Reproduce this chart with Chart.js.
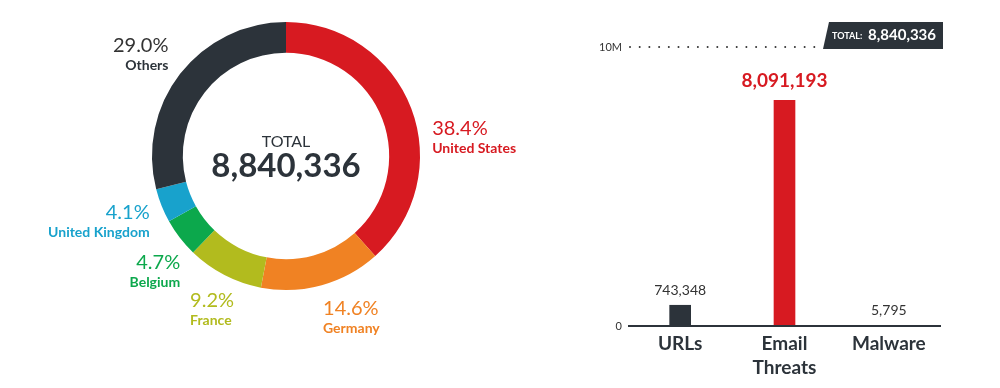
<!DOCTYPE html>
<html>
<head>
    <title>Threats by Country</title>
    <script src="https://cdn.jsdelivr.net/npm/chart.js"></script>
    <style>
      body { margin: 0; background: #fff; }
      #wrap { position: relative; width: 1000px; height: 388px; }
      #donut { position: absolute; left: 0; top: 0; }
      #bars { position: absolute; left: 560px; top: 0; }
    </style>
</head>
<body>
    <div id="wrap">
      <canvas id="donut" width="560" height="388"></canvas>
      <canvas id="bars" width="440" height="388"></canvas>
    </div>

    <script>
    // donut data
    const countries = ['United States', 'Germany', 'France', 'Belgium', 'United Kingdom', 'Others'];
    const shares = [38.4, 14.6, 9.2, 4.7, 4.1, 29.0];
    const countryColors = ['#d71a21', '#f08223', '#b2bb1e', '#0ca84c', '#18a2cc', '#2c333a'];
    const totalCount = 8840336;

    // bar data
    const threatTypes = [['URLs'], ['Email', 'Threats'], ['Malware']];
    const threatCounts = [743348, 8091193, 5795];
    const threatColors = ['#2c333a', '#d71a21', '#2c333a'];
    const yTickValues = [0, 10000000];
    const yTickLabels = ['0', '10M'];

    const FONT = 'Lato';
    const DARK = '#2c333a';
    Chart.defaults.font.family = FONT;

    // label placement around the ring: align + nudge from mid-angle anchor
    const ringLabelStyle = [
      { align: 'left', dx: 6, dy: 26 },
      { align: 'left', dx: -3, dy: 8 },
      { align: 'left', dx: -27, dy: 11 },
      { align: 'right', dx: 13, dy: 15 },
      { align: 'right', dx: 3, dy: 1 },
      { align: 'right', dx: 1, dy: -19 }
    ];

    const ringLabels = {
      id: 'ringLabels',
      afterDraw(chart) {
        const c = chart.ctx;
        const arcs = chart.getDatasetMeta(0).data;
        c.save();
        arcs.forEach((arc, i) => {
          const mid = (arc.startAngle + arc.endAngle) / 2;
          const r = arc.outerRadius + 16;
          const st = ringLabelStyle[i];
          const x = arc.x + Math.cos(mid) * r + st.dx;
          const y = arc.y + Math.sin(mid) * r + st.dy;
          const col = countryColors[i];
          c.textAlign = st.align;
          c.textBaseline = 'middle';
          c.fillStyle = i === 5 ? '#333' : col;
          c.font = '20px ' + FONT;
          c.fillText(shares[i].toFixed(1) + '%', x, y);
          c.fillStyle = col;
          c.font = 'bold 14px ' + FONT;
          c.fillText(countries[i], x, y + 20);
        });
        // centre text
        const a = arcs[0];
        c.textAlign = 'center';
        c.fillStyle = DARK;
        c.font = '16px ' + FONT;
        c.fillText('TOTAL', a.x, a.y - 14);
        c.font = 'bold 33px ' + FONT;
        c.fillText(totalCount.toLocaleString('en-US'), a.x, a.y + 10);
        c.restore();
      }
    };

    new Chart(document.getElementById('donut'), {
      type: 'doughnut',
      data: {
        labels: countries,
        datasets: [{ data: shares, backgroundColor: countryColors, borderWidth: 0 }]
      },
      options: {
        responsive: false,
        animation: false,
        cutout: '77%',
        layout: { padding: { left: 152, top: 22, right: 140, bottom: 98 } },
        plugins: { legend: { display: false }, tooltip: { enabled: false } }
      },
      plugins: [ringLabels]
    });

    // bar extras: value labels, baseline, dotted 10M line, total badge
    const barExtras = {
      id: 'barExtras',
      afterDatasetsDraw(chart) {
        const c = chart.ctx;
        const y = chart.scales.y;
        const area = chart.chartArea;
        const y0 = y.getPixelForValue(0);
        const yTop = y.getPixelForValue(yTickValues[1]);
        c.save();
        // baseline
        c.strokeStyle = DARK;
        c.lineWidth = 2;
        c.beginPath();
        c.moveTo(area.left, y0);
        c.lineTo(area.right, y0);
        c.stroke();

        // badge
        const bw = 120, bh = 27;
        const bx = area.right + 2 - bw;
        const by = yTop - 25;
        c.fillStyle = DARK;
        c.beginPath();
        c.moveTo(bx + 6, by);
        c.lineTo(bx + bw, by);
        c.lineTo(bx + bw, by + bh);
        c.lineTo(bx, by + bh);
        c.closePath();
        c.fill();
        c.fillStyle = '#fff';
        c.textBaseline = 'middle';
        c.textAlign = 'left';
        c.font = 'bold 9px ' + FONT;
        c.fillText('TOTAL:', bx + 9, by + bh / 2 + 1);
        c.font = 'bold 15px ' + FONT;
        c.textAlign = 'right';
        c.fillText(totalCount.toLocaleString('en-US'), bx + bw - 7, by + bh / 2);

        // dotted line
        c.fillStyle = '#333';
        for (let x = area.left + 2; x < bx - 2; x += 9.7) {
          c.beginPath();
          c.arc(x, yTop, 1, 0, Math.PI * 2);
          c.fill();
        }

        // value labels
        const meta = chart.getDatasetMeta(0);
        meta.data.forEach((bar, i) => {
          const big = i === 1;
          c.fillStyle = big ? threatColors[1] : '#333';
          c.font = (big ? 'bold 19px ' : '14px ') + FONT;
          c.textAlign = 'center';
          c.fillText(threatCounts[i].toLocaleString('en-US'), bar.x, bar.y - (big ? 19 : 15));
        });
        c.restore();
      }
    };

    new Chart(document.getElementById('bars'), {
      type: 'bar',
      data: {
        labels: threatTypes,
        datasets: [{ data: threatCounts, backgroundColor: threatColors, barThickness: 21 }]
      },
      options: {
        responsive: false,
        animation: false,
        layout: { padding: { left: 28, top: 47, right: 59, bottom: 0 } },
        plugins: { legend: { display: false }, tooltip: { enabled: false } },
        scales: {
          x: {
            grid: { display: false, drawTicks: false },
            border: { display: false },
            ticks: { color: DARK, font: { size: 19, weight: 'bold', lineHeight: 1.25 }, padding: 6 },
            afterFit(s) { s.height = 62; }
          },
          y: {
            min: 0,
            max: yTickValues[1],
            grid: { display: false, drawTicks: false },
            border: { display: false },
            afterBuildTicks(s) { s.ticks = yTickValues.map(v => ({ value: v })); },
            ticks: {
              color: '#333',
              font: { size: 11 },
              padding: 6,
              callback: (v, i) => yTickLabels[i]
            },
            afterFit(s) { s.width = 40; }
          }
        }
      },
      plugins: [barExtras]
    });
    </script>
</body>
</html>
